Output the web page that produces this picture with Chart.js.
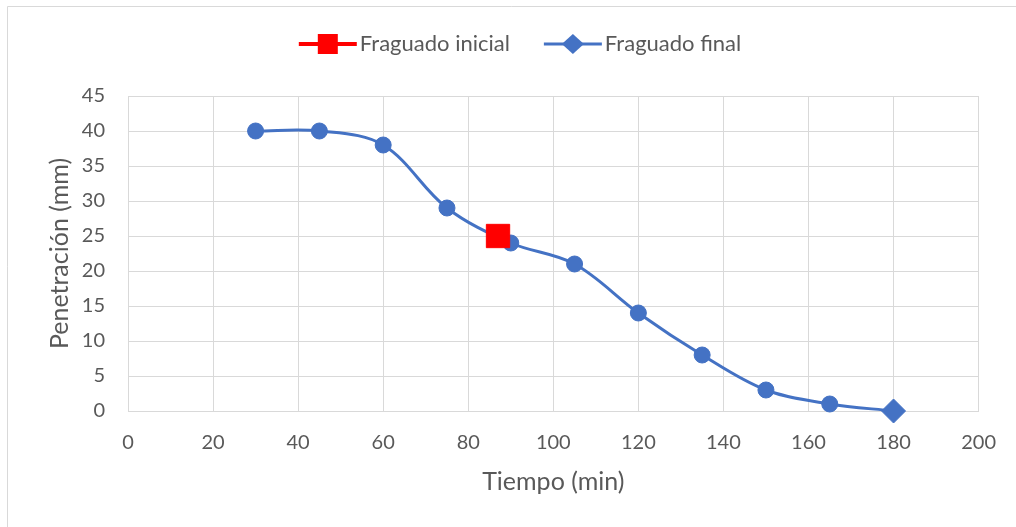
<!DOCTYPE html>
<html>
<head>
<meta charset="utf-8">
<script src="https://cdn.jsdelivr.net/npm/chart.js@4.4.1/dist/chart.umd.min.js"></script>
<style>
  html, body { margin: 0; padding: 0; background: #ffffff; }
  #wrap { width: 1016px; height: 527px; position: relative; }
</style>
</head>
<body>
<div id="wrap"><canvas id="chart" width="1016" height="527"></canvas></div>
<script>
// Setting-time test: penetration vs. elapsed time
const tiempoFinal = [30, 45, 60, 75, 90, 105, 120, 135, 150, 165, 180];
const penetracionFinal = [40, 40, 38, 29, 24, 21, 14, 8, 3, 1, 0];
const tiempoInicial = [87];
const penetracionInicial = [25];
const xTicks = [0, 20, 40, 60, 80, 100, 120, 140, 160, 180, 200];
const yTicks = [0, 5, 10, 15, 20, 25, 30, 35, 40, 45];

const BLUE = '#4472C4';
const RED = '#FF0000';
const GRID = '#D9D9D9';
const TEXT = '#595959';
const FONT = 'Lato, "Open Sans", sans-serif';

const finalPoints = tiempoFinal.map((x, i) => ({ x, y: penetracionFinal[i] }));
const inicialPoints = tiempoInicial.map((x, i) => ({ x, y: penetracionInicial[i] }));
const lastIdx = tiempoFinal.length - 1;
const finalStyles = tiempoFinal.map((_, i) => i === lastIdx ? 'rectRot' : 'circle');
const finalRadii = tiempoFinal.map((_, i) => i === lastIdx ? 12 : 8);

// Outer frame of the chart
const frame = {
  id: 'frame',
  beforeDraw(chart) {
    const g = chart.ctx;
    g.save();
    g.fillStyle = '#ffffff';
    g.fillRect(0, 0, chart.width, chart.height);
    g.strokeStyle = GRID; g.lineWidth = 1;
    g.beginPath();
    g.moveTo(7.5, chart.height); g.lineTo(7.5, 6.5); g.lineTo(chart.width, 6.5);
    g.stroke();
    g.restore();
  }
};

// Legend row: line-and-marker swatch followed by the series name
const lineLegend = {
  id: 'lineLegend',
  afterDraw(chart) {
    const g = chart.ctx;
    const items = [
      { text: chart.data.datasets[0].label, color: RED, shape: 'square', lw: 4 },
      { text: chart.data.datasets[1].label, color: BLUE, shape: 'diamond', lw: 3 }
    ];
    const SW = 58, GAP_TXT = 3, GAP_ITEM = 34, CX = 520, CY = 44;
    g.save();
    g.font = '22px ' + FONT;
    g.textBaseline = 'middle';
    g.textAlign = 'left';
    const widths = items.map(it => g.measureText(it.text).width);
    let total = 0;
    items.forEach((it, i) => { total += SW + GAP_TXT + widths[i] + (i < items.length - 1 ? GAP_ITEM : 0); });
    let x = CX - total / 2;
    items.forEach((it, i) => {
      g.strokeStyle = it.color; g.lineWidth = it.lw;
      g.beginPath(); g.moveTo(x, CY); g.lineTo(x + SW, CY); g.stroke();
      g.fillStyle = it.color;
      const mx = x + SW / 2;
      if (it.shape === 'square') {
        g.fillRect(mx - 10, CY - 10, 20, 20);
      } else {
        g.beginPath();
        g.moveTo(mx, CY - 10); g.lineTo(mx + 11, CY); g.lineTo(mx, CY + 10); g.lineTo(mx - 11, CY);
        g.closePath(); g.fill();
      }
      g.fillStyle = TEXT;
      g.fillText(it.text, x + SW + GAP_TXT, CY);
      x += SW + GAP_TXT + widths[i] + GAP_ITEM;
    });
    g.restore();
  }
};

new Chart(document.getElementById('chart'), {
  type: 'scatter',
  data: {
    datasets: [
      {
        label: 'Fraguado inicial',
        data: inicialPoints,
        backgroundColor: RED,
        borderColor: RED,
        pointStyle: 'rect',
        pointRadius: 16.5,
        pointHoverRadius: 16.5,
        showLine: false,
        clip: false
      },
      {
        label: 'Fraguado final',
        data: finalPoints,
        backgroundColor: BLUE,
        borderColor: BLUE,
        borderWidth: 3,
        showLine: true,
        tension: 0.35,
        pointStyle: finalStyles,
        pointRadius: finalRadii,
        pointHoverRadius: finalRadii,
        pointBorderWidth: 1,
        clip: false
      }
    ]
  },
  options: {
    responsive: false,
    animation: false,
    layout: { padding: { top: 96, right: 37, left: 0, bottom: 0 } },
    plugins: {
      tooltip: { enabled: false },
      legend: { display: false }
    },
    scales: {
      x: {
        type: 'linear',
        min: 0, max: 200,
        afterBuildTicks(scale) { scale.ticks = xTicks.map(v => ({ value: v })); },
        afterFit(scale) { scale.height = 116; },
        grid: { color: GRID, drawTicks: false },
        border: { color: GRID },
        ticks: { color: TEXT, padding: 20, font: { family: FONT, size: 20 } },
        title: {
          display: true, text: 'Tiempo (min)', color: TEXT,
          font: { family: FONT, size: 25 }, padding: { top: 0, bottom: 30 }
        }
      },
      y: {
        type: 'linear',
        min: 0, max: 45,
        afterBuildTicks(scale) { scale.ticks = yTicks.map(v => ({ value: v })); },
        afterFit(scale) { scale.width = 128; },
        grid: { color: GRID, drawTicks: false },
        border: { color: GRID },
        ticks: { color: TEXT, padding: 23, font: { family: FONT, size: 20 } },
        title: {
          display: true, text: 'Penetración (mm)', color: TEXT,
          font: { family: FONT, size: 25 }, padding: { top: 45, bottom: 0 }
        }
      }
    }
  },
  plugins: [frame, lineLegend]
});
</script>
</body>
</html>
